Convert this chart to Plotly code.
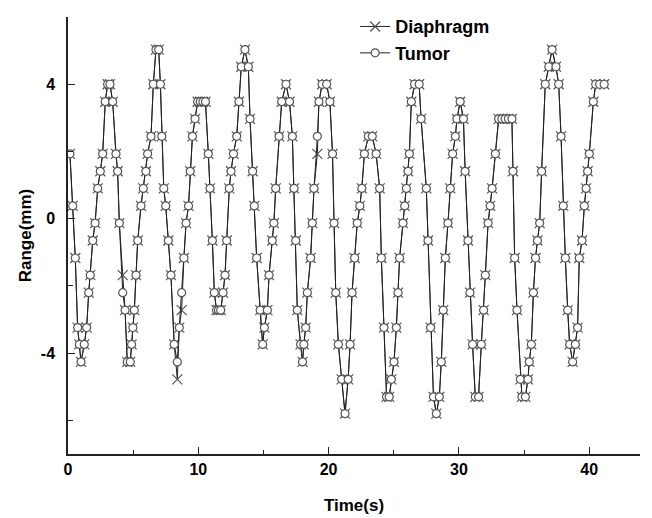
import plotly.graph_objects as go

time_s = [
    0.15, 0.36, 0.56, 0.74, 0.87, 1.00, 1.25, 1.43, 1.59, 1.71,
    1.90, 2.08, 2.28, 2.48, 2.66, 2.86, 3.04, 3.22, 3.43, 3.68,
    3.81, 3.94, 4.20, 4.38, 4.55, 4.78, 4.88, 4.98, 5.09, 5.22,
    5.35, 5.60, 5.78, 5.98, 6.11, 6.37, 6.55, 6.75, 6.96, 7.09,
    7.20, 7.35, 7.50, 7.70, 7.90, 8.15, 8.39, 8.54, 8.72, 8.90,
    9.06, 9.25, 9.38, 9.55, 9.75, 9.95, 10.15, 10.35, 10.55, 10.77,
    10.90, 11.08, 11.23, 11.40, 11.55, 11.72, 11.90, 12.05, 12.18, 12.38,
    12.51, 12.70, 12.95, 13.12, 13.30, 13.58, 13.84, 13.97, 14.17, 14.30,
    14.48, 14.75, 14.94, 15.07, 15.30, 15.43, 15.68, 15.80, 15.94, 16.20,
    16.40, 16.73, 17.00, 17.22, 17.35, 17.48, 17.60, 17.85, 18.00, 18.10,
    18.24, 18.37, 18.62, 18.75, 18.88, 19.14, 19.26, 19.50, 19.85, 20.10,
    20.30, 20.42, 20.55, 20.75, 21.00, 21.26, 21.50, 21.65, 21.80, 22.00,
    22.20, 22.40, 22.55, 22.75, 23.05, 23.35, 23.65, 23.92, 24.05, 24.25,
    24.45, 24.65, 24.82, 25.02, 25.20, 25.33, 25.45, 25.71, 25.84, 25.97,
    26.10, 26.20, 26.35, 26.60, 26.95, 27.10, 27.50, 27.63, 27.83, 28.05,
    28.27, 28.50, 28.65, 28.80, 28.96, 29.16, 29.34, 29.52, 29.73, 29.85,
    30.10, 30.35, 30.48, 30.70, 30.85, 31.05, 31.26, 31.51, 31.72, 31.90,
    32.03, 32.24, 32.40, 32.55, 32.80, 33.05, 33.30, 33.55, 33.80, 34.07,
    34.15, 34.28, 34.46, 34.72, 34.84, 35.10, 35.30, 35.40, 35.56, 35.72,
    35.88, 36.03, 36.20, 36.35, 36.63, 36.90, 37.15, 37.45, 37.66, 37.84,
    38.01, 38.17, 38.35, 38.50, 38.73, 38.94, 39.11, 39.24, 39.45, 39.63,
    39.76, 39.88, 40.01, 40.32, 40.50, 40.80, 41.15,
]

tumor_mm = [
    1.93, 0.38, -1.17, -3.24, -3.74, -4.26, -3.74, -3.24, -2.20, -1.68,
    -0.65, -0.13, 0.90, 1.41, 1.93, 3.48, 4.00, 4.00, 3.48, 1.93,
    1.41, -0.13, -2.20, -2.72, -4.26, -4.26, -3.74, -3.24, -2.72, -1.68,
    -0.65, 0.38, 0.90, 1.41, 1.93, 2.45, 4.00, 5.03, 5.03, 4.00,
    2.45, 0.90, 0.38, -0.65, -1.68, -3.74, -4.26, -3.24, -2.20, -1.17,
    -0.13, 0.38, 1.41, 2.45, 2.97, 3.48, 3.48, 3.48, 3.48, 1.93,
    0.90, -0.65, -2.20, -2.72, -2.72, -2.72, -2.20, -1.68, -0.65, 0.90,
    1.41, 1.93, 2.45, 3.48, 4.52, 5.03, 4.52, 2.97, 1.41, 0.38,
    -1.17, -2.72, -3.74, -3.24, -2.72, -1.68, -0.65, -0.13, 0.90, 2.45,
    3.48, 4.00, 3.48, 2.45, 0.90, -0.65, -2.72, -3.74, -4.26, -3.74,
    -3.24, -2.20, -1.17, -0.13, 0.90, 2.45, 3.48, 4.00, 4.00, 3.48,
    1.93, -0.13, -2.20, -3.74, -4.78, -5.80, -4.78, -3.74, -2.20, -1.17,
    -0.13, 0.38, 0.90, 1.93, 2.45, 2.45, 1.93, 0.90, -1.17, -3.24,
    -5.30, -5.30, -4.78, -4.26, -3.24, -2.20, -1.17, -0.13, 0.38, 0.90,
    1.41, 1.93, 3.48, 4.00, 4.00, 2.97, 0.90, -0.65, -3.24, -5.30,
    -5.80, -5.30, -4.26, -2.72, -1.17, -0.13, 0.90, 1.93, 2.45, 2.97,
    3.48, 2.97, 1.41, -0.65, -2.20, -3.74, -5.30, -5.30, -3.74, -2.72,
    -1.68, -0.13, 0.38, 0.90, 1.93, 2.97, 2.97, 2.97, 2.97, 2.97,
    1.41, -1.17, -2.72, -4.78, -5.30, -5.30, -4.78, -4.26, -3.74, -2.20,
    -1.17, -0.65, -0.13, 1.41, 4.00, 4.52, 5.03, 4.52, 4.00, 2.45,
    0.38, -1.17, -2.72, -3.74, -4.26, -3.74, -3.24, -1.17, -0.65, 0.38,
    0.90, 1.41, 1.93, 3.48, 4.00, 4.00, 4.00,
]

diaphragm_mm = [
    1.93, 0.38, -1.17, -3.24, -3.74, -4.26, -3.74, -3.24, -2.20, -1.68,
    -0.65, -0.13, 0.90, 1.41, 1.93, 3.48, 4.00, 4.00, 3.48, 1.93,
    1.41, -0.13, -1.68, -2.72, -4.26, -4.26, -3.74, -3.24, -2.72, -1.68,
    -0.65, 0.38, 0.90, 1.41, 1.93, 2.45, 4.00, 5.03, 5.03, 4.00,
    2.45, 0.90, 0.38, -0.65, -1.68, -3.74, -4.78, -3.24, -2.72, -1.17,
    -0.13, 0.38, 1.41, 2.45, 2.97, 3.48, 3.48, 3.48, 3.48, 1.93,
    0.90, -0.65, -2.20, -2.72, -2.72, -2.72, -2.20, -1.68, -0.65, 0.90,
    1.41, 1.93, 2.45, 3.48, 4.52, 5.03, 4.52, 2.97, 1.41, 0.38,
    -1.17, -2.72, -3.74, -3.24, -2.72, -1.68, -0.65, -0.13, 0.90, 2.45,
    3.48, 4.00, 3.48, 2.45, 0.90, -0.65, -2.72, -3.74, -4.26, -3.74,
    -3.24, -2.20, -1.17, -0.13, 0.90, 1.93, 3.48, 4.00, 4.00, 3.48,
    1.93, -0.13, -2.20, -3.74, -4.78, -5.80, -4.78, -3.74, -2.20, -1.17,
    -0.13, 0.38, 0.90, 1.93, 2.45, 2.45, 1.93, 0.90, -1.17, -3.24,
    -5.30, -5.30, -4.78, -4.26, -3.24, -2.20, -1.17, -0.13, 0.38, 0.90,
    1.41, 1.93, 3.48, 4.00, 4.00, 2.97, 0.90, -0.65, -3.24, -5.30,
    -5.80, -5.30, -4.26, -2.72, -1.17, -0.13, 0.90, 1.93, 2.45, 2.97,
    3.48, 2.97, 1.41, -0.65, -2.20, -3.74, -5.30, -5.30, -3.74, -2.72,
    -1.68, -0.13, 0.38, 0.90, 1.93, 2.97, 2.97, 2.97, 2.97, 2.97,
    1.41, -1.17, -2.72, -4.78, -5.30, -5.30, -4.78, -4.26, -3.74, -2.20,
    -1.17, -0.65, -0.13, 1.41, 4.00, 4.52, 5.03, 4.52, 4.00, 2.45,
    0.38, -1.17, -2.72, -3.74, -4.26, -3.74, -3.24, -1.17, -0.65, 0.38,
    0.90, 1.41, 1.93, 3.48, 4.00, 4.00, 4.00,
]

y_tick_values = [-4, 0, 4]
y_tick_labels = ["-4", "0", "4"]

FONT = "Liberation Sans, Arial, sans-serif"

fig = go.Figure()
fig.add_trace(go.Scatter(
    x=time_s, y=diaphragm_mm, name="Diaphragm", mode="lines+markers",
    line=dict(color="#222222", width=1),
    marker=dict(symbol="x-thin", size=10, line=dict(color="#555555", width=1.2)),
))
fig.add_trace(go.Scatter(
    x=time_s, y=tumor_mm, name="Tumor", mode="lines+markers",
    line=dict(color="#222222", width=1),
    marker=dict(symbol="circle", size=8, color="white",
                line=dict(color="#555555", width=1.2)),
))

fig.update_layout(
    width=652, height=518,
    margin=dict(l=68, r=12, t=17, b=64, autoexpand=False),
    paper_bgcolor="white", plot_bgcolor="white",
    font=dict(family=FONT, size=16, color="black"),
    showlegend=True,
    legend=dict(x=0.502, y=1.02, xanchor="left", yanchor="top",
                bgcolor="rgba(0,0,0,0)", tracegroupgap=0,
                font=dict(family=FONT, size=18, color="black", weight="bold")),
    xaxis=dict(
        range=[0, 43.9], showgrid=False, zeroline=False, automargin=False,
        showline=True, linecolor="#222222", linewidth=1.5,
        ticks="inside", ticklen=7, tickwidth=1.2, tickcolor="#222222",
        tick0=0, dtick=10,
        minor=dict(ticks="inside", ticklen=4, dtick=5, tickcolor="#222222"),
        tickfont=dict(family=FONT, size=16, weight="bold"),
        title=dict(text="Time(s)", font=dict(family=FONT, size=17, weight="bold"),
                   standoff=22),
    ),
    yaxis=dict(
        range=[-7, 6], showgrid=False, zeroline=False, automargin=False,
        showline=True, linecolor="#222222", linewidth=1.5,
        ticks="inside", ticklen=7, tickwidth=1.2, tickcolor="#222222",
        tickmode="array", tickvals=y_tick_values, ticktext=y_tick_labels,
        ticklabelstandoff=8,
        minor=dict(ticks="inside", ticklen=5, dtick=2, tick0=0, tickcolor="#222222"),
        tickfont=dict(family=FONT, size=16, weight="bold"),
        title=dict(text="Range(mm)", font=dict(family=FONT, size=17, weight="bold"),
                   standoff=5),
    ),
)

fig.write_html("out.html")
